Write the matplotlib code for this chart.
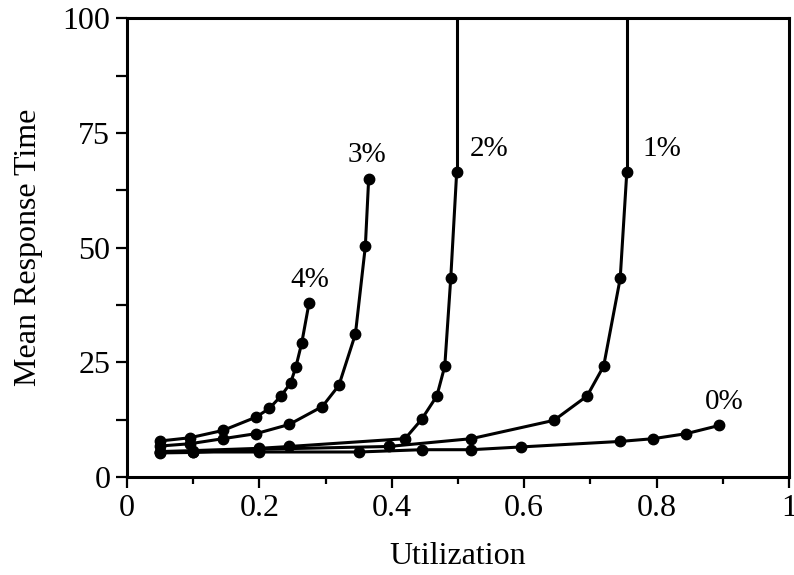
import matplotlib.pyplot as plt
from matplotlib.ticker import MultipleLocator

plt.rcParams["font.family"] = ["Liberation Serif", "DejaVu Serif"]

# ── Data ─────────────────────────────────────────────────────────────────
util_0 = [0.05, 0.10, 0.20, 0.35, 0.445, 0.52, 0.595, 0.745, 0.795, 0.845, 0.895]
resp_0 = [5.5, 5.5, 5.5, 5.5, 6.0, 6.0, 6.6, 7.8, 8.4, 9.5, 11.3]

util_1 = [0.05, 0.10, 0.20, 0.395, 0.52, 0.645, 0.695, 0.72, 0.745, 0.755]
resp_1 = [5.3, 5.4, 6.1, 6.7, 8.4, 12.4, 17.7, 24.2, 43.3, 66.5]

util_2 = [0.05, 0.10, 0.20, 0.245, 0.42, 0.445, 0.468, 0.48, 0.489, 0.498]
resp_2 = [5.6, 5.8, 6.3, 6.7, 8.4, 12.6, 17.7, 24.2, 43.3, 66.5]

util_3 = [0.05, 0.095, 0.145, 0.195, 0.245, 0.295, 0.32, 0.345, 0.36, 0.365]
resp_3 = [6.8, 7.3, 8.4, 9.5, 11.5, 15.4, 20.0, 31.2, 50.3, 64.9]

util_4 = [0.05, 0.095, 0.145, 0.195, 0.215, 0.232, 0.247, 0.255, 0.264, 0.275]
resp_4 = [7.9, 8.6, 10.2, 13.1, 15.0, 17.6, 20.5, 24.0, 29.3, 38.0]

labels = ["0%", "1%", "2%", "3%", "4%"]
# curves that blow up (vertical asymptote to the top of the axes)
unbounded = ["1%", "2%"]
Y_MAX = 100


def draw():
    fig = plt.figure(figsize=(7.94, 5.75), dpi=100)
    ax = fig.add_axes([0.16, 0.17, 0.8337, 0.7985])

    series = [(util_0, resp_0), (util_1, resp_1), (util_2, resp_2),
              (util_3, resp_3), (util_4, resp_4)]
    for (x, y), lab in zip(series, labels):
        ax.plot(x, y, color="black", lw=2.2, marker="o", ms=7.5,
                solid_joinstyle="miter")
        if lab in unbounded:
            ax.plot([x[-1], x[-1]], [y[-1], Y_MAX], color="black", lw=2.2)

    # curve labels
    fs_lab = 21
    ax.text(0.276, 43.0, "4%", ha="center", va="center", fontsize=fs_lab)
    ax.text(0.362, 70.2, "3%", ha="center", va="center", fontsize=fs_lab)
    ax.text(0.518, 71.5, "2%", ha="left", va="center", fontsize=fs_lab)
    ax.text(0.779, 71.5, "1%", ha="left", va="center", fontsize=fs_lab)
    ax.text(0.902, 16.3, "0%", ha="center", va="center", fontsize=fs_lab)

    ax.set_xlim(0, 1)
    ax.set_ylim(0, Y_MAX)
    ax.xaxis.set_major_locator(MultipleLocator(0.2))
    ax.xaxis.set_minor_locator(MultipleLocator(0.1))
    ax.yaxis.set_major_locator(MultipleLocator(25))
    ax.yaxis.set_minor_locator(MultipleLocator(12.5))
    ax.set_xticks([0, 0.2, 0.4, 0.6, 0.8, 1.0])
    ax.set_xticklabels(["0", "0.2", "0.4", "0.6", "0.8", "1"])

    ax.tick_params(which="major", direction="out", length=8, width=1.6,
                   labelsize=23, pad=4)
    ax.tick_params(axis="x", which="minor", direction="out", length=5, width=1.6)
    ax.tick_params(axis="y", which="minor", direction="out", length=8, width=1.6)
    for s in ax.spines.values():
        s.set_linewidth(2.2)

    ax.set_xlabel("Utilization", fontsize=23, labelpad=14)
    ax.set_ylabel("Mean Response Time", fontsize=23, labelpad=14)

    fig.savefig("out.png", dpi=100)


if __name__ == "__main__":
    draw()
